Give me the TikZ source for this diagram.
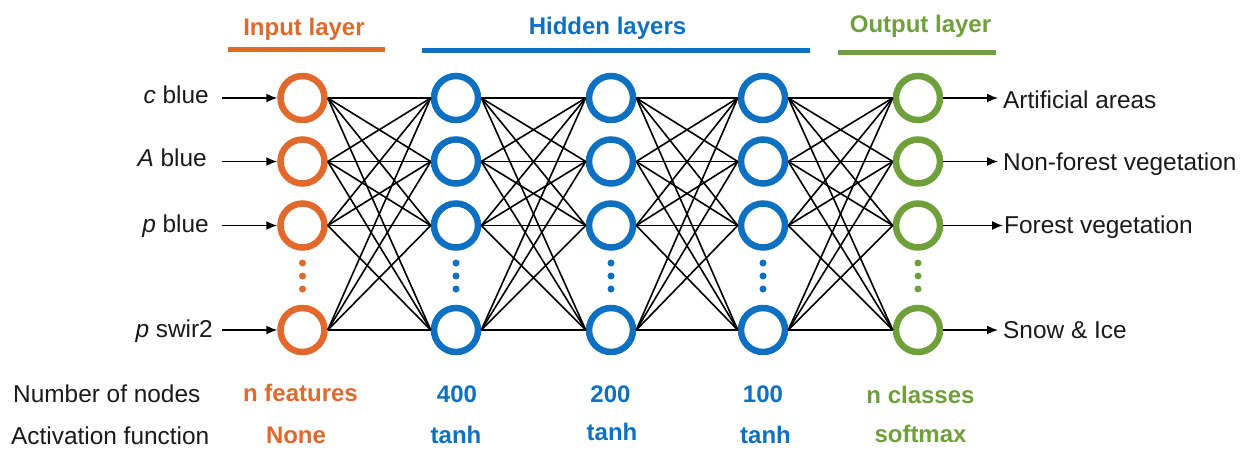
\documentclass[tikz,border=0pt]{standalone}
\usepackage{fontspec}
\setmainfont{Liberation Sans}
\usetikzlibrary{arrows.meta}
\definecolor{corange}{HTML}{E0692B}
\definecolor{cblue}{HTML}{0E70C0}
\definecolor{cgreen}{HTML}{6FA03C}
\definecolor{ctext}{HTML}{1A1A1A}
\begin{document}
\begin{tikzpicture}[x=1pt,y=-1pt,
  neuron/.style={circle, draw=#1, line width=6.5pt, minimum size=44pt, inner sep=0pt},
  lbl/.style={inner sep=0pt, font=\fontsize{24.4}{28}\selectfont, text=ctext},
  blbl/.style={inner sep=0pt, font=\fontsize{24}{28}\selectfont\bfseries, text=#1},
  conn/.style={line width=1.6pt, draw=black},
  arr/.style={line width=1.6pt, draw=black, -{Latex[length=11pt,width=9pt]}},
  bar/.style={line width=5pt, draw=#1}]
\useasboundingbox (0,0) rectangle (1246,450);

% layers of neurons
\foreach \l/\x/\c in {0/302.5/corange,1/456/cblue,2/611/cblue,3/763/cblue,4/918/cgreen}{
  \foreach \r/\y in {1/98,2/161.5,3/225.5,4/330}
    \node[neuron=\c] (n\l\r) at (\x,\y) {};
  \foreach \d in {263,276,289}
    \fill[\c] (\x,\d) circle (3.5pt);
}

% connections
\foreach \l in {0,1,2,3}{
  \pgfmathtruncatemacro\m{\l+1}
  \foreach \i in {1,2,3,4}
    \foreach \j in {1,2,3,4}
      \draw[conn] (n\l\i.east) -- (n\m\j.west);
}

% headers
\draw[bar=corange] (228,49.5) -- (385,49.5);
\draw[bar=cblue] (422,50.5) -- (810,50.5);
\draw[bar=cgreen] (838,52) -- (996,52);
\node[blbl=corange, anchor=base] (hin) at (304,35) {Input layer};
\node[blbl=cblue, anchor=base] (hhid) at (607.5,34.5) {Hidden layers};
\node[blbl=cgreen, anchor=base] (hout) at (920.5,32.5) {Output layer};

% inputs
\node[lbl, anchor=base east] (i1) at (209,103) {\textit{c} blue};
\node[lbl, anchor=base east] (i2) at (207,166) {\textit{A} blue};
\node[lbl, anchor=base east] (i3) at (209,232) {\textit{p} blue};
\node[lbl, anchor=base east] (i4) at (213,337) {\textit{p} swir2};
\foreach \r/\y in {1/98,2/161.5,3/225.5,4/330}{
  \coordinate (s\r) at (222,\y);
  \draw[arr] (s\r) -- (n0\r.west);
}

% outputs
\foreach \r/\y/\e in {1/98/998,2/161.5/998,3/225.5/1003,4/330/998}{
  \coordinate (t\r) at (\e,\y);
  \draw[arr] (n4\r.east) -- (t\r);
}
\node[lbl, anchor=base west] (o1) at (1003,108) {Artificial areas};
\node[lbl, anchor=base west] (o2) at (1003,170) {Non-forest vegetation};
\node[lbl, anchor=base west] (o3) at (1004,233) {Forest vegetation};
\node[lbl, anchor=base west] (o4) at (1003,338) {Snow \& Ice};

% bottom table
\node[lbl, anchor=base west] (rn) at (13,402) {Number of nodes};
\node[lbl, anchor=base west] (ra) at (11,444) {Activation function};
\node[blbl=corange, anchor=base] (b0n) at (300.5,401) {n features};
\node[blbl=corange, anchor=base] (b0a) at (296,443) {None};
\node[blbl=cblue, anchor=base] (b1n) at (457,402) {400};
\node[blbl=cblue, anchor=base] (b1a) at (456,443) {tanh};
\node[blbl=cblue, anchor=base] (b2n) at (610.5,402) {200};
\node[blbl=cblue, anchor=base] (b2a) at (612,440) {tanh};
\node[blbl=cblue, anchor=base] (b3n) at (763,402) {100};
\node[blbl=cblue, anchor=base] (b3a) at (765.5,443) {tanh};
\node[blbl=cgreen, anchor=base] (b4n) at (920.5,403) {n classes};
\node[blbl=cgreen, anchor=base] (b4a) at (920.5,442) {softmax};
\end{tikzpicture}
\end{document}
